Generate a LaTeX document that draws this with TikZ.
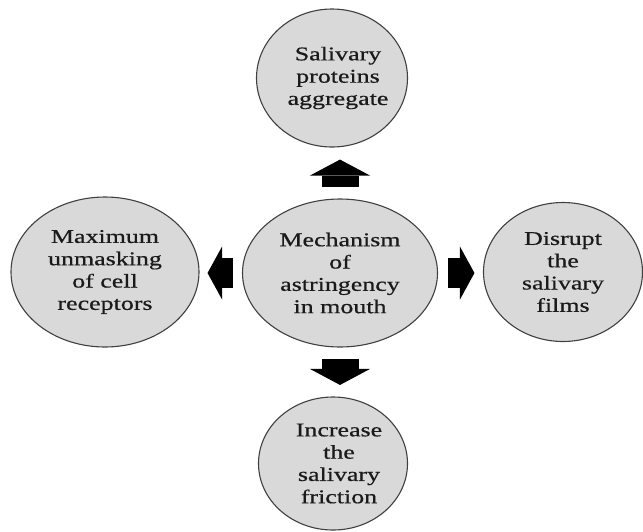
\documentclass[tikz,border=0pt]{standalone}
\usepackage{fontspec}
\setmainfont{Liberation Serif}[FakeStretch=1.33,FakeBold=0.6]
\usetikzlibrary{shapes.geometric,arrows.meta,calc}
\definecolor{bubblefill}{HTML}{D9D9D9}
\definecolor{bubbleline}{HTML}{404040}
\definecolor{txt}{HTML}{1A1A1A}
\begin{document}
\begin{tikzpicture}[x=1pt,y=-1pt,
  bubble/.style={ellipse, draw=bubbleline, line width=1.1pt, fill=bubblefill,
    inner sep=0pt, align=center, text=txt,
    font=\fontsize{19.5}{22.3}\selectfont},
  btext/.style={align=center, text=txt, inner sep=0pt,
    font=\fontsize{19.5}{22.3}\selectfont},
  vfat/.style={black, line width=37pt,
    -{Triangle[width=60pt,length=16pt,line width=0pt]}},
  hfat/.style={black, line width=30pt,
    -{Triangle[width=53pt,length=14.5pt,line width=0pt]}}]
\useasboundingbox (0,0) rectangle (643,531);
\node[bubble, minimum width=195pt, minimum height=148pt] (C) at (340,273)
  {Mechanism\\of\\astringency\\in mouth};
\node[bubble, minimum width=151pt, minimum height=138pt,
  label={[btext, xshift=6pt]center:Salivary\\proteins\\aggregate}] (T) at (332,78) {};
\node[bubble, minimum width=188pt, minimum height=150pt] (L) at (105,272)
  {Maximum\\unmasking\\of cell\\receptors};
\node[bubble, minimum width=159pt, minimum height=139pt] (R) at (563,272)
  {Disrupt\\the\\salivary\\films};
\node[bubble, minimum width=149pt, minimum height=133pt,
  label={[btext, xshift=6pt]center:Increase\\the\\salivary\\friction}] (B) at (333,463.5) {};
\draw[vfat] ($(C.north)+(0,-11)$) -- ($(C.north |- T.south)+(0,12)$);
\draw[vfat] ($(C.south)+(0,11)$) -- ($(C.south |- B.north)+(0,-11.5)$);
\draw[hfat] ($(C.west)+(-9,0)$) -- ($(C.west -| L.east)+(8,0)$);
\draw[hfat] ($(C.east)+(10,0)$) -- ($(C.east -| R.west)+(-8.5,0)$);
\end{tikzpicture}
\end{document}
